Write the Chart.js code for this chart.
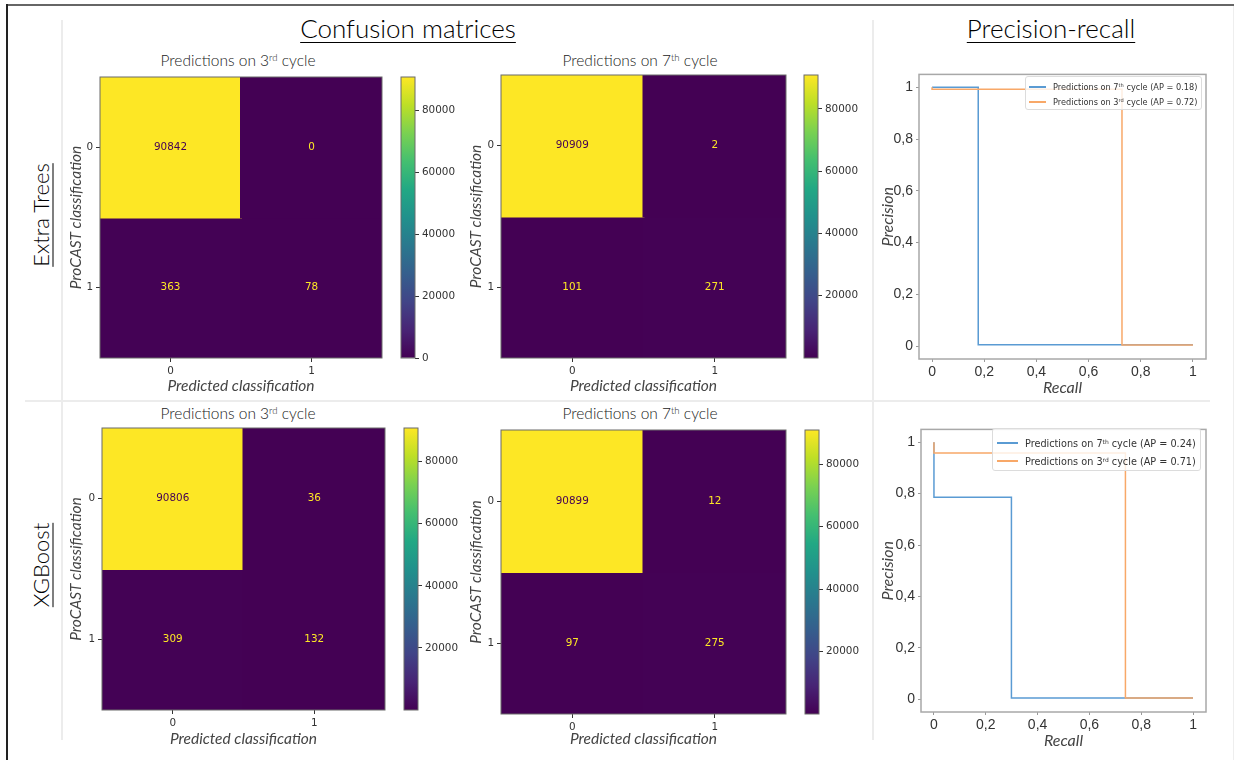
<!DOCTYPE html>
<html>
<head>
<meta charset="utf-8">
<script src="https://cdn.jsdelivr.net/npm/chart.js@4.4.1/dist/chart.umd.min.js"></script>
<style>
  html, body { margin: 0; padding: 0; background: #fff; }
  #page { position: relative; width: 1234px; height: 760px; overflow: hidden; font-family: Lato, sans-serif; color: #222; }
  .line { position: absolute; }
  .slot { position: absolute; }
  .head { position: absolute; font-size: 26px; font-weight: 300; color: #000; white-space: nowrap; transform: translate(-50%, -50%);
          text-decoration: underline; text-decoration-thickness: 1px; text-underline-offset: 4px; }
  .side { position: absolute; font-size: 22px; font-weight: 300; color: #000; white-space: nowrap; transform: translate(-50%, -50%) rotate(-90deg);
          text-decoration: underline; text-decoration-thickness: 1px; text-underline-offset: 4px; }
  .sub { position: absolute; font-size: 15.5px; font-weight: 300; color: #222; white-space: nowrap; transform: translate(-50%, -50%); }
  sup { font-size: 0.62em; line-height: 0; position: relative; top: -0.5em; vertical-align: baseline; }
  .legend { position: absolute; box-sizing: border-box; border: 1px solid #dcdcdc; border-radius: 3px; background: rgba(255,255,255,0.8);
            font-family: 'DejaVu Sans', sans-serif; color: #333; }
  .legend .row { position: absolute; display: flex; align-items: center; white-space: nowrap; height: 12px; margin-top: -6px; }
  .legend .row i { display: inline-block; height: 1.5px; margin-right: 7px; }
</style>
</head>
<body>
<div id="page">
  <div class="line" style="left:7px;top:4px;width:1227px;height:2px;background:#666"></div>
  <div class="line" style="left:6px;top:4px;width:2px;height:756px;background:#222"></div>
  <div class="line" style="left:1233px;top:6px;width:1px;height:754px;background:#eee"></div>
  <div class="line" style="left:61px;top:20px;width:2px;height:720px;background:#ececec"></div>
  <div class="line" style="left:872px;top:20px;width:2px;height:720px;background:#ececec"></div>
  <div class="line" style="left:25px;top:400px;width:1185px;height:2px;background:#ececec"></div>

  <div class="head" style="left:408px;top:28px">Confusion matrices</div>
  <div class="head" style="left:1051px;top:28px">Precision-recall</div>
  <div class="side" style="left:40px;top:215px">Extra Trees</div>
  <div class="side" style="left:40px;top:565px">XGBoost</div>

  <div class="sub" style="left:238px;top:60px">Predictions on 3<sup>rd</sup> cycle</div>
  <div class="sub" style="left:640px;top:60px">Predictions on 7<sup>th</sup> cycle</div>
  <div class="sub" style="left:238px;top:413px">Predictions on 3<sup>rd</sup> cycle</div>
  <div class="sub" style="left:640px;top:413px">Predictions on 7<sup>th</sup> cycle</div>
</div>
<script>
// confusion matrices: rows = ProCAST class, cols = predicted class
const classLabels = ['0', '1'];
const etCycle3 = [[90842, 0], [363, 78]];
const etCycle7 = [[90909, 2], [101, 271]];
const xgbCycle3 = [[90806, 36], [309, 132]];
const xgbCycle7 = [[90899, 12], [97, 275]];
const cbarTicks = [0, 20000, 40000, 60000, 80000];

// precision-recall curves (recall decreasing, as returned by sklearn)
const etRecall7 = [1, 0.177, 0];
const etPrecision7 = [0.0048, 1, 1];
const etRecall3 = [1, 0.728, 0];
const etPrecision3 = [0.0041, 0.993, 1];
const xgbRecall7 = [1, 0.299, 0];
const xgbPrecision7 = [0.0048, 0.786, 1];
const xgbRecall3 = [1, 0.739, 0];
const xgbPrecision3 = [0.0041, 0.958, 1];
const etAP = [0.18, 0.72];
const xgbAP = [0.24, 0.71];
const curveCycles = ['7<sup>th</sup>', '3<sup>rd</sup>'];
const prTicks = [0, 0.2, 0.4, 0.6, 0.8, 1];

const viridisStops = ['#440154', '#482475', '#414487', '#355f8d', '#2a788e', '#21918c',
  '#22a884', '#44bf70', '#7ad151', '#bddf26', '#fde725'];
const blue = '#5a9bd3';
const orange = '#f8a868';

function hexRgb(h) {
  return [1, 3, 5].map((i) => parseInt(h.slice(i, i + 2), 16));
}

function viridis(t) {
  t = Math.min(1, Math.max(0, t));
  const pos = t * (viridisStops.length - 1);
  const i = Math.min(Math.floor(pos), viridisStops.length - 2);
  const f = pos - i;
  const a = hexRgb(viridisStops[i]);
  const b = hexRgb(viridisStops[i + 1]);
  const c = a.map((v, k) => Math.round(v + (b[k] - v) * f));
  return `rgb(${c[0]}, ${c[1]}, ${c[2]})`;
}

const page = document.getElementById('page');

function slot(area, pads) {
  const div = document.createElement('div');
  div.className = 'slot';
  div.style.left = (area[0] - pads.left) + 'px';
  div.style.top = (area[1] - pads.top) + 'px';
  div.style.width = (area[2] - area[0] + pads.left + pads.right) + 'px';
  div.style.height = (area[3] - area[1] + pads.top + pads.bottom) + 'px';
  const canvas = document.createElement('canvas');
  div.appendChild(canvas);
  page.appendChild(div);
  return canvas;
}

const frame = {
  id: 'frame',
  afterDraw(chart, args, opts) {
    const a = chart.chartArea;
    const ctx = chart.ctx;
    ctx.save();
    ctx.strokeStyle = opts.color || '#666';
    ctx.lineWidth = opts.width || 1;
    ctx.strokeRect(a.left, a.top, a.right - a.left, a.bottom - a.top);
    ctx.restore();
  },
};

const cellText = {
  id: 'cellText',
  afterDatasetsDraw(chart) {
    const sets = chart.data.datasets;
    const flat = sets.flatMap((d) => d.counts);
    const mid = (Math.min(...flat) + Math.max(...flat)) / 2;
    const ctx = chart.ctx;
    ctx.save();
    ctx.font = '10.4px "DejaVu Sans"';
    ctx.textAlign = 'center';
    ctx.textBaseline = 'middle';
    sets.forEach((ds, i) => {
      chart.getDatasetMeta(i).data.forEach((bar, j) => {
        const v = ds.counts[j];
        ctx.fillStyle = v > mid ? viridisStops[0] : viridisStops[viridisStops.length - 1];
        ctx.fillText(String(v), bar.x, (bar.y + bar.base) / 2);
      });
    });
    ctx.restore();
  },
};

const tickFont = { family: 'DejaVu Sans', size: 10.4 };
const titleFont = { family: 'Lato', size: 15.5, style: 'italic' };
const smallTicks = { display: true, drawOnChartArea: false, drawTicks: true, tickLength: 4, color: '#333', offset: false };

function matrixChart(area, pads, counts) {
  const flat = counts.flat();
  const lo = Math.min(...flat);
  const hi = Math.max(...flat);
  new Chart(slot(area, pads), {
    type: 'bar',
    data: {
      labels: classLabels,
      datasets: counts.map((row, r) => ({
        data: row.map(() => [r - 0.5, r + 0.5]),
        counts: row,
        backgroundColor: row.map((v) => viridis((v - lo) / (hi - lo))),
        borderWidth: 0,
        inflateAmount: 1,
        grouped: false,
        barPercentage: 1,
        categoryPercentage: 1,
      })),
    },
    options: {
      animation: false,
      responsive: true,
      maintainAspectRatio: false,
      layout: { padding: { left: 0, right: pads.right, top: pads.top, bottom: 0 } },
      plugins: { legend: { display: false }, tooltip: { enabled: false }, frame: { color: '#6b6b6b', width: 1 } },
      scales: {
        x: {
          type: 'category',
          grid: smallTicks,
          border: { display: false },
          ticks: { font: tickFont, color: '#333', padding: 3 },
          title: { display: true, text: 'Predicted classification', font: titleFont, color: '#444', padding: { top: 0, bottom: 2 } },
          afterFit: (s) => { s.height = pads.bottom; },
        },
        y: {
          type: 'linear',
          min: -0.5,
          max: 1.5,
          reverse: true,
          grid: smallTicks,
          border: { display: false },
          afterBuildTicks: (s) => { s.ticks = classLabels.map((_, i) => ({ value: i })); },
          ticks: { font: tickFont, color: '#333', padding: 3, callback: (v) => classLabels[v] },
          title: { display: true, text: 'ProCAST classification', font: titleFont, color: '#444', padding: { top: 2, bottom: 0 } },
          afterFit: (s) => { s.width = pads.left; },
        },
      },
    },
    plugins: [cellText, frame],
  });
  return [lo, hi];
}

function colorbar(area, pads, range) {
  new Chart(slot(area, pads), {
    type: 'bar',
    data: {
      labels: [''],
      datasets: [{
        data: [range],
        borderWidth: 0,
        barPercentage: 1,
        categoryPercentage: 1,
        backgroundColor: (c) => {
          const a = c.chart.chartArea;
          if (!a) return viridisStops[0];
          const g = c.chart.ctx.createLinearGradient(0, a.bottom, 0, a.top);
          viridisStops.forEach((col, i) => g.addColorStop(i / (viridisStops.length - 1), col));
          return g;
        },
      }],
    },
    options: {
      animation: false,
      responsive: true,
      maintainAspectRatio: false,
      layout: { padding: { left: pads.left, right: 0, top: pads.top, bottom: pads.bottom } },
      plugins: { legend: { display: false }, tooltip: { enabled: false }, frame: { color: '#6b6b6b', width: 1 } },
      scales: {
        x: { display: false },
        y: {
          position: 'right',
          min: range[0],
          max: range[1],
          grid: { display: true, drawOnChartArea: false, drawTicks: true, tickLength: 4, color: '#333' },
          border: { display: false },
          afterBuildTicks: (s) => {
            s.ticks = cbarTicks.filter((v) => v >= s.min && v <= s.max).map((v) => ({ value: v }));
          },
          ticks: { font: tickFont, color: '#333', padding: 3, callback: (v) => String(v) },
          afterFit: (s) => { s.width = pads.right; },
        },
      },
    },
    plugins: [frame],
  });
}

function points(xs, ys) {
  return xs.map((x, i) => ({ x, y: ys[i] }));
}

const prFont = { family: 'Liberation Sans', size: 14 };
const prTitle = { family: 'Lato', size: 16, style: 'italic' };

function prChart(area, pads, curve7, curve3) {
  const common = { pointRadius: 0, borderWidth: 1.5, stepped: true, showLine: true, fill: false };
  new Chart(slot(area, pads), {
    type: 'scatter',
    data: {
      datasets: [
        Object.assign({ data: curve7, borderColor: blue, order: 1 }, common),
        Object.assign({ data: curve3, borderColor: orange, order: 0 }, common),
      ],
    },
    options: {
      animation: false,
      responsive: true,
      maintainAspectRatio: false,
      layout: { padding: { left: 0, right: pads.right, top: pads.top, bottom: 0 } },
      plugins: { legend: { display: false }, tooltip: { enabled: false }, frame: { color: '#a8a8a8', width: 1.5 } },
      scales: {
        x: {
          type: 'linear',
          min: -0.05,
          max: 1.05,
          grid: { display: true, drawOnChartArea: false, drawTicks: true, tickLength: 3, color: '#999' },
          border: { display: false },
          afterBuildTicks: (s) => { s.ticks = prTicks.map((v) => ({ value: v })); },
          ticks: { font: prFont, color: '#333', padding: 2, callback: (v) => String(v).replace('.', ',') },
          title: { display: true, text: 'Recall', font: prTitle, color: '#444', padding: { top: 0, bottom: 2 } },
          afterFit: (s) => { s.height = pads.bottom; },
        },
        y: {
          type: 'linear',
          min: -0.05,
          max: 1.05,
          grid: { display: true, drawOnChartArea: false, drawTicks: true, tickLength: 3, color: '#999' },
          border: { display: false },
          afterBuildTicks: (s) => { s.ticks = prTicks.map((v) => ({ value: v })); },
          ticks: { font: prFont, color: '#333', padding: 3, callback: (v) => String(v).replace('.', ',') },
          title: { display: true, text: 'Precision', font: prTitle, color: '#444', padding: { top: 2, bottom: 0 } },
          afterFit: (s) => { s.width = pads.left; },
        },
      },
    },
    plugins: [frame],
  });
}

function legend(box, fontSize, swatch, rows, ap) {
  const div = document.createElement('div');
  div.className = 'legend';
  div.style.left = box[0] + 'px';
  div.style.top = box[1] + 'px';
  div.style.width = box[2] + 'px';
  div.style.height = box[3] + 'px';
  div.style.fontSize = fontSize + 'px';
  [blue, orange].forEach((col, i) => {
    const row = document.createElement('div');
    row.className = 'row';
    row.style.left = swatch[0] + 'px';
    row.style.top = rows[i] + 'px';
    row.innerHTML = `<i style="width:${swatch[1]}px;background:${col}"></i>` +
      `<span>Predictions on ${curveCycles[i]} cycle (AP = ${ap[i].toFixed(2)})</span>`;
    div.appendChild(row);
  });
  page.appendChild(div);
}

// Extra Trees row
const r1 = matrixChart([100, 77, 382, 358], { left: 35, right: 6, top: 10, bottom: 39 }, etCycle3);
colorbar([401, 77, 415, 358], { left: 4, right: 55, top: 10, bottom: 10 }, r1);
const r2 = matrixChart([501, 75, 786, 358], { left: 36, right: 6, top: 10, bottom: 39 }, etCycle7);
colorbar([804, 75, 818, 358], { left: 4, right: 55, top: 10, bottom: 10 }, r2);
prChart([919, 73, 1206, 359], { left: 43, right: 12, top: 10, bottom: 40 },
  points(etRecall7, etPrecision7), points(etRecall3, etPrecision3));
legend([1025, 76, 177, 34], 8.2, [3, 17], [10, 25], etAP);

// XGBoost row
const r3 = matrixChart([102, 428, 385, 710], { left: 37, right: 6, top: 10, bottom: 40 }, xgbCycle3);
colorbar([404, 428, 418, 710], { left: 4, right: 55, top: 10, bottom: 10 }, r3);
const r4 = matrixChart([501, 430, 786, 714], { left: 36, right: 6, top: 10, bottom: 36 }, xgbCycle7);
colorbar([805, 430, 819, 714], { left: 4, right: 55, top: 10, bottom: 10 }, r4);
prChart([921, 428, 1206, 712], { left: 45, right: 12, top: 10, bottom: 40 },
  points(xgbRecall7, xgbPrecision7), points(xgbRecall3, xgbPrecision3));
legend([992, 428, 209, 43], 9.7, [4, 21], [14, 32], xgbAP);
</script>
</body>
</html>
